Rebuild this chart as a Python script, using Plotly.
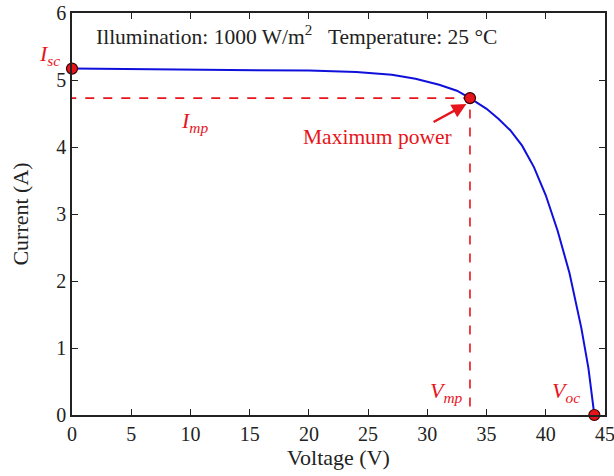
import plotly.graph_objects as go

voltage = [0, 5, 10, 15, 20, 24, 27, 29, 31, 32.5, 33.6, 35, 36, 37, 38, 39, 40, 41, 42, 43, 43.6, 44.1]
current = [5.17, 5.165, 5.16, 5.15, 5.14, 5.12, 5.08, 5.02, 4.93, 4.84, 4.73, 4.57, 4.42, 4.25, 4.02, 3.7, 3.28, 2.75, 2.12, 1.3, 0.7, 0.0]

isc = 5.17
vmp, imp = 33.6, 4.73
voc = 44.1

x_ticks = [0, 5, 10, 15, 20, 25, 30, 35, 40, 45]
y_ticks = [0, 1, 2, 3, 4, 5, 6]

red = "#e8141c"
font_family = "Liberation Serif, Times New Roman, serif"

fig = go.Figure()

fig.add_trace(go.Scatter(x=[-0.4, vmp, vmp], y=[imp, imp, 0], mode="lines", cliponaxis=False,
                         line=dict(color=red, width=1.6, dash="dash"), hoverinfo="skip"))
fig.add_trace(go.Scatter(x=voltage, y=current, mode="lines",
                         line=dict(color="#1010dd", width=2), hoverinfo="skip"))
fig.add_trace(go.Scatter(x=[0, vmp, voc], y=[isc, imp, 0], mode="markers", cliponaxis=False,
                         marker=dict(color=red, size=11, line=dict(color="#3a0000", width=1.2))))

ann = []
ann.append(dict(x=1.85, y=5.66, xref="x", yref="y", xanchor="left", yanchor="middle", showarrow=False,
                text="Illumination: 1000 W/m<sup>2</sup>   Temperature: 25 °C",
                font=dict(family=font_family, size=21.5, color="#222")))
ann.append(dict(x=-0.018, y=5.37 / 6, xref="paper", yref="paper", xanchor="right", yanchor="middle",
                showarrow=False,
                text="<i>I</i><sub><i>sc</i></sub>", font=dict(family=font_family, size=22, color=red)))
ann.append(dict(x=10.3, y=4.38, xref="x", yref="y", showarrow=False,
                text="<i>I</i><sub><i>mp</i></sub>", font=dict(family=font_family, size=22, color=red)))
ann.append(dict(x=31.6, y=0.35, xref="x", yref="y", showarrow=False,
                text="<i>V</i><sub><i>mp</i></sub>", font=dict(family=font_family, size=22, color=red)))
ann.append(dict(x=41.7, y=0.35, xref="x", yref="y", showarrow=False,
                text="<i>V</i><sub><i>oc</i></sub>", font=dict(family=font_family, size=22, color=red)))
ann.append(dict(x=25.8, y=4.15, xref="x", yref="y", showarrow=False,
                text="Maximum power", font=dict(family=font_family, size=21.5, color=red)))
ann.append(dict(x=33.3, y=4.64, ax=30.4, ay=4.36, xref="x", yref="y", axref="x", ayref="y",
                showarrow=True, arrowhead=2, arrowsize=1.2, arrowwidth=2.4, arrowcolor=red, text=""))

fig.update_layout(
    width=614, height=476,
    margin=dict(l=72, r=9, t=13, b=61),
    paper_bgcolor="white", plot_bgcolor="white",
    showlegend=False,
    hovermode=False,
    font=dict(family=font_family, size=18.5, color="#222"),
    annotations=ann,
    xaxis=dict(range=[0, 45], tickvals=x_ticks, ticks="inside", ticklen=6, tickcolor="#222",
               showline=True, linecolor="#222", linewidth=1.5, mirror="ticks", showgrid=False,
               zeroline=False, automargin=False, ticklabeloverflow="allow",
               title=dict(text="Voltage (V)", standoff=0),
               tickfont=dict(size=20)),
    yaxis=dict(range=[0, 6], tickvals=y_ticks, ticks="inside", ticklen=6, tickcolor="#222",
               showline=True, linecolor="#222", linewidth=1.5, mirror="ticks", showgrid=False,
               zeroline=False, automargin=False, ticklabeloverflow="allow",
               title=dict(text="Current (A)", standoff=22),
               tickfont=dict(size=20)),
)

fig.write_html("out.html", config={"displayModeBar": False},
               post_script="document.body.style.margin='0px';")
